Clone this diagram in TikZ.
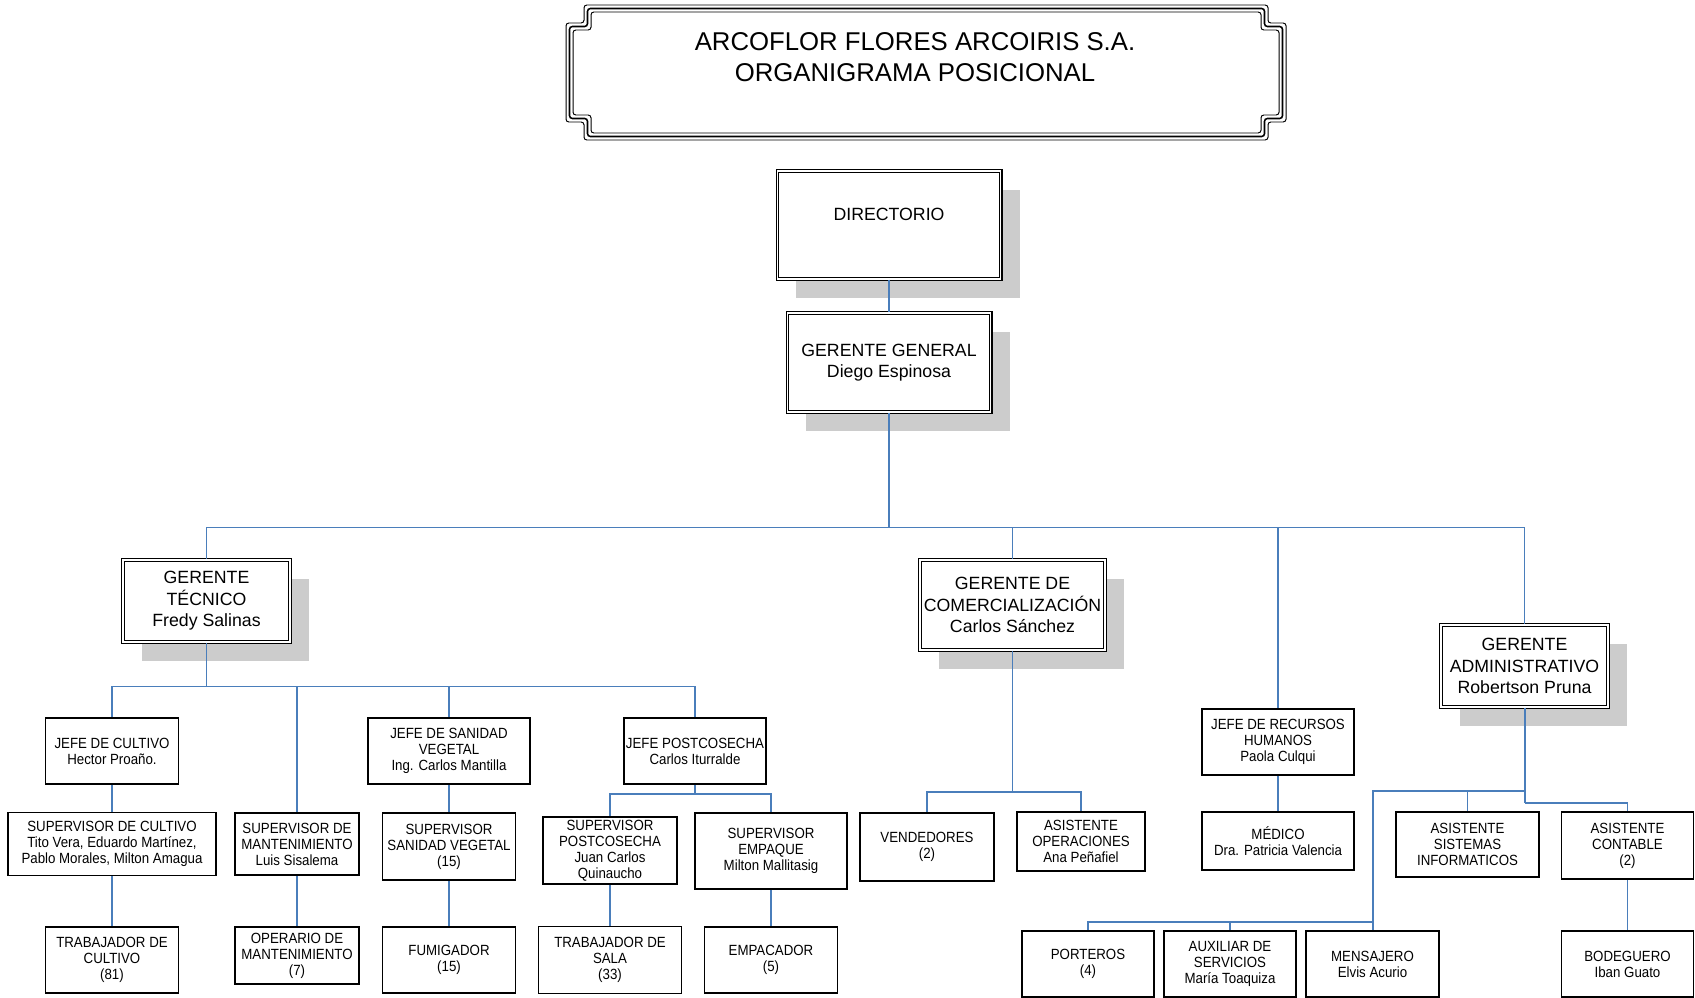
\documentclass[tikz,border=0pt]{standalone}
\usepackage{fontspec}
\setmainfont{Liberation Sans}
\newfontfamily\angosta[FakeStretch=0.9]{Liberation Sans}
\usetikzlibrary{shadows}
\definecolor{azul}{RGB}{74,126,187}
\definecolor{sombra}{RGB}{204,204,204}

\begin{document}
\begin{tikzpicture}[x=0.025cm, y=-0.025cm,
        title_style/.style={align=center, font=\fontsize{18.3}{22.5}\selectfont},
        frame_style/.style={draw=black, rounded corners=2pt},
        boss_style/.style={rectangle, draw=black, double=white, double distance=1.1pt, line width=0.85pt, fill=white, align=center, inner sep=0pt, font=\fontsize{12.6}{15.2}\selectfont, drop shadow={shadow xshift=0.475cm, shadow yshift=-0.475cm, fill=sombra, opacity=1}},
        box_style/.style={rectangle, draw=black, line width=1.1pt, fill=white, align=center, inner sep=0pt, font=\angosta\fontsize{10.5}{11.4}\selectfont},
        edge_style/.style={draw=azul, line width=1pt},
        thick_edge_style/.style={draw=azul, line width=1.4pt},
        main_edge_style/.style={draw=azul, line width=1.9pt}]

        \useasboundingbox (0,0) rectangle (1695,998);

        \foreach \d/\w in {0/0.7pt, 3.5/1.1pt, 7/0.7pt}
            \draw [frame_style, line width=\w] (566+\d,23+\d) -- (584+\d,23+\d) -- (584+\d,5+\d) -- (1268-\d,5+\d) -- (1268-\d,23+\d) -- (1286-\d,23+\d) -- (1286-\d,122-\d) -- (1268-\d,122-\d) -- (1268-\d,140-\d) -- (584+\d,140-\d) -- (584+\d,122-\d) -- (566+\d,122-\d) -- cycle;

        \node [title_style](titulo) at (915,57) {ARCOFLOR FLORES ARCOIRIS S.A.\\ORGANIGRAMA POSICIONAL};

        \node [boss_style, minimum width=5.575cm, minimum height=2.7cm](dir) at (889,225) {DIRECTORIO\\ \mbox{}};

        \node [boss_style, minimum width=5.075cm, minimum height=2.475cm](gg) at (889,362.5) {GERENTE GENERAL\\Diego Espinosa};

        \node [boss_style, minimum width=4.175cm, minimum height=2.05cm](gt) at (206.5,601) {GERENTE\\TÉCNICO\\Fredy Salinas};

        \node [boss_style, minimum width=4.625cm, minimum height=2.25cm](gc) at (1012.5,605) {GERENTE DE\\COMERCIALIZACIÓN\\Carlos Sánchez};

        \node [boss_style, minimum width=4.175cm, minimum height=2.05cm](ga) at (1524.5,666) {GERENTE\\ADMINISTRATIVO\\Robertson Pruna};

        \node [box_style, minimum width=3.8cm, minimum height=1.65cm](jrh) at (1278,742) {JEFE DE RECURSOS\\HUMANOS\\Paola Culqui};

        \node [box_style, minimum width=3.325cm, minimum height=1.65cm](jcult) at (112,751) {JEFE DE CULTIVO\\Hector Proaño.};

        \node [box_style, minimum width=5.2cm, minimum height=1.575cm](supcult) at (112,844) {SUPERVISOR DE CULTIVO\\Tito Vera, Eduardo Martínez,\\Pablo Morales, Milton Amagua};

        \node [box_style, minimum width=3.325cm, minimum height=1.65cm](trabcult) at (112,960) {TRABAJADOR DE\\CULTIVO\\(81)};

        \node [box_style, minimum width=3.1cm, minimum height=1.55cm](supmant) at (297,844) {SUPERVISOR DE\\MANTENIMIENTO\\Luis Sisalema};

        \node [box_style, minimum width=3.1cm, minimum height=1.425cm](operario) at (297,955.5) {OPERARIO DE\\MANTENIMIENTO\\(7)};

        \node [box_style, minimum width=4.05cm, minimum height=1.65cm](jsan) at (449,751) {JEFE DE SANIDAD\\VEGETAL\\Ing. Carlos Mantilla};

        \node [box_style, minimum width=3.325cm, minimum height=1.675cm](supsan) at (449,846.5) {SUPERVISOR\\SANIDAD VEGETAL\\(15)};

        \node [box_style, minimum width=3.325cm, minimum height=1.65cm](fumig) at (449,960) {FUMIGADOR\\(15)};

        \node [box_style, minimum width=3.55cm, minimum height=1.65cm](jpost) at (695,751) {JEFE POSTCOSECHA\\Carlos Iturralde};

        \node [box_style, minimum width=3.35cm, minimum height=1.675cm](suppost) at (610,850.5) {SUPERVISOR\\POSTCOSECHA\\Juan Carlos\\Quinaucho};

        \node [box_style, minimum width=3.8cm, minimum height=1.9cm](supemp) at (771,851) {SUPERVISOR\\EMPAQUE\\Milton Mallitasig};

        \node [box_style, minimum width=3.575cm, minimum height=1.675cm](trabsala) at (610,960) {TRABAJADOR DE\\SALA\\(33)};

        \node [box_style, minimum width=3.325cm, minimum height=1.65cm](empac) at (771,960) {EMPACADOR\\(5)};

        \node [box_style, minimum width=3.35cm, minimum height=1.7cm](vend) at (927,847) {VENDEDORES\\(2)};

        \node [box_style, minimum width=3.2cm, minimum height=1.475cm](asisoper) at (1081,841.5) {ASISTENTE\\OPERACIONES\\Ana Peñafiel};

        \node [box_style, minimum width=3.8cm, minimum height=1.45cm](medico) at (1278,841) {MÉDICO\\Dra. Patricia Valencia};

        \node [box_style, minimum width=3.575cm, minimum height=1.625cm](asissis) at (1467.5,844.5) {ASISTENTE\\SISTEMAS\\INFORMATICOS};

        \node [box_style, minimum width=3.3cm, minimum height=1.675cm](contable) at (1627.5,845.5) {ASISTENTE\\CONTABLE\\(2)};

        \node [box_style, minimum width=3.3cm, minimum height=1.65cm](bodeg) at (1627.5,964) {BODEGUERO\\Iban Guato};

        \node [box_style, minimum width=3.3cm, minimum height=1.65cm](porteros) at (1088,964) {PORTEROS\\(4)};

        \node [box_style, minimum width=3.3cm, minimum height=1.65cm](auxiliar) at (1230,964) {AUXILIAR DE\\SERVICIOS\\María Toaquiza};

        \node [box_style, minimum width=3.325cm, minimum height=1.65cm](mensajero) at (1372.5,964) {MENSAJERO\\Elvis Acurio};

        \coordinate (bus) at (889,527.5);
        \coordinate (bgt) at (206.5,686.5);
        \coordinate (bjp) at (695,794);
        \coordinate (bgc) at (1012.5,792);
        \coordinate (bga) at (1524.5,791);
        \coordinate (bga2) at (1524.5,803);
        \coordinate (bserv) at (1372.5,922);

        \draw [edge_style] (dir) -- (gg);

        \draw [main_edge_style] (gg.south) -- (bus);

        \draw [edge_style] (bus) -| (gt.north);
        \draw [edge_style] (bus) -| (gc.north);
        \draw [edge_style] (bus) -| (jrh.north);
        \draw [edge_style] (bus) -| (ga.north);

        \draw [edge_style] (gt.south) -- (bgt);
        \draw [edge_style] (bgt) -| (jcult.north);
        \draw [edge_style] (bgt) -| (supmant.north);
        \draw [edge_style] (bgt) -| (jsan.north);
        \draw [edge_style] (bgt) -| (jpost.north);

        \draw [edge_style] (jcult) -- (supcult);
        \draw [edge_style] (supcult) -- (trabcult);
        \draw [edge_style] (supmant) -- (operario);
        \draw [edge_style] (jsan) -- (supsan);
        \draw [edge_style] (supsan) -- (fumig);

        \draw [edge_style] (jpost.south) -- (bjp);
        \draw [edge_style] (bjp) -| (suppost.north);
        \draw [edge_style] (bjp) -| (supemp.north);
        \draw [edge_style] (suppost) -- (trabsala);
        \draw [edge_style] (supemp) -- (empac);

        \draw [edge_style] (gc.south) -- (bgc);
        \draw [edge_style] (bgc) -| (vend.north);
        \draw [edge_style] (bgc) -| (asisoper.north);

        \draw [edge_style] (jrh) -- (medico);

        \draw [thick_edge_style] (ga.south) -- (bga2);
        \draw [edge_style] (bga) -| (asissis.north);
        \draw [thick_edge_style] (bga) -| (bserv);
        \draw [edge_style] (bga2) -| (contable.north);
        \draw [thick_edge_style] (bserv) -| (porteros.north);
        \draw [edge_style] (bserv) -| (auxiliar.north);
        \draw [thick_edge_style] (bserv) -- (mensajero.north);
        \draw [edge_style] (contable) -- (bodeg);

\end{tikzpicture}
\end{document}
